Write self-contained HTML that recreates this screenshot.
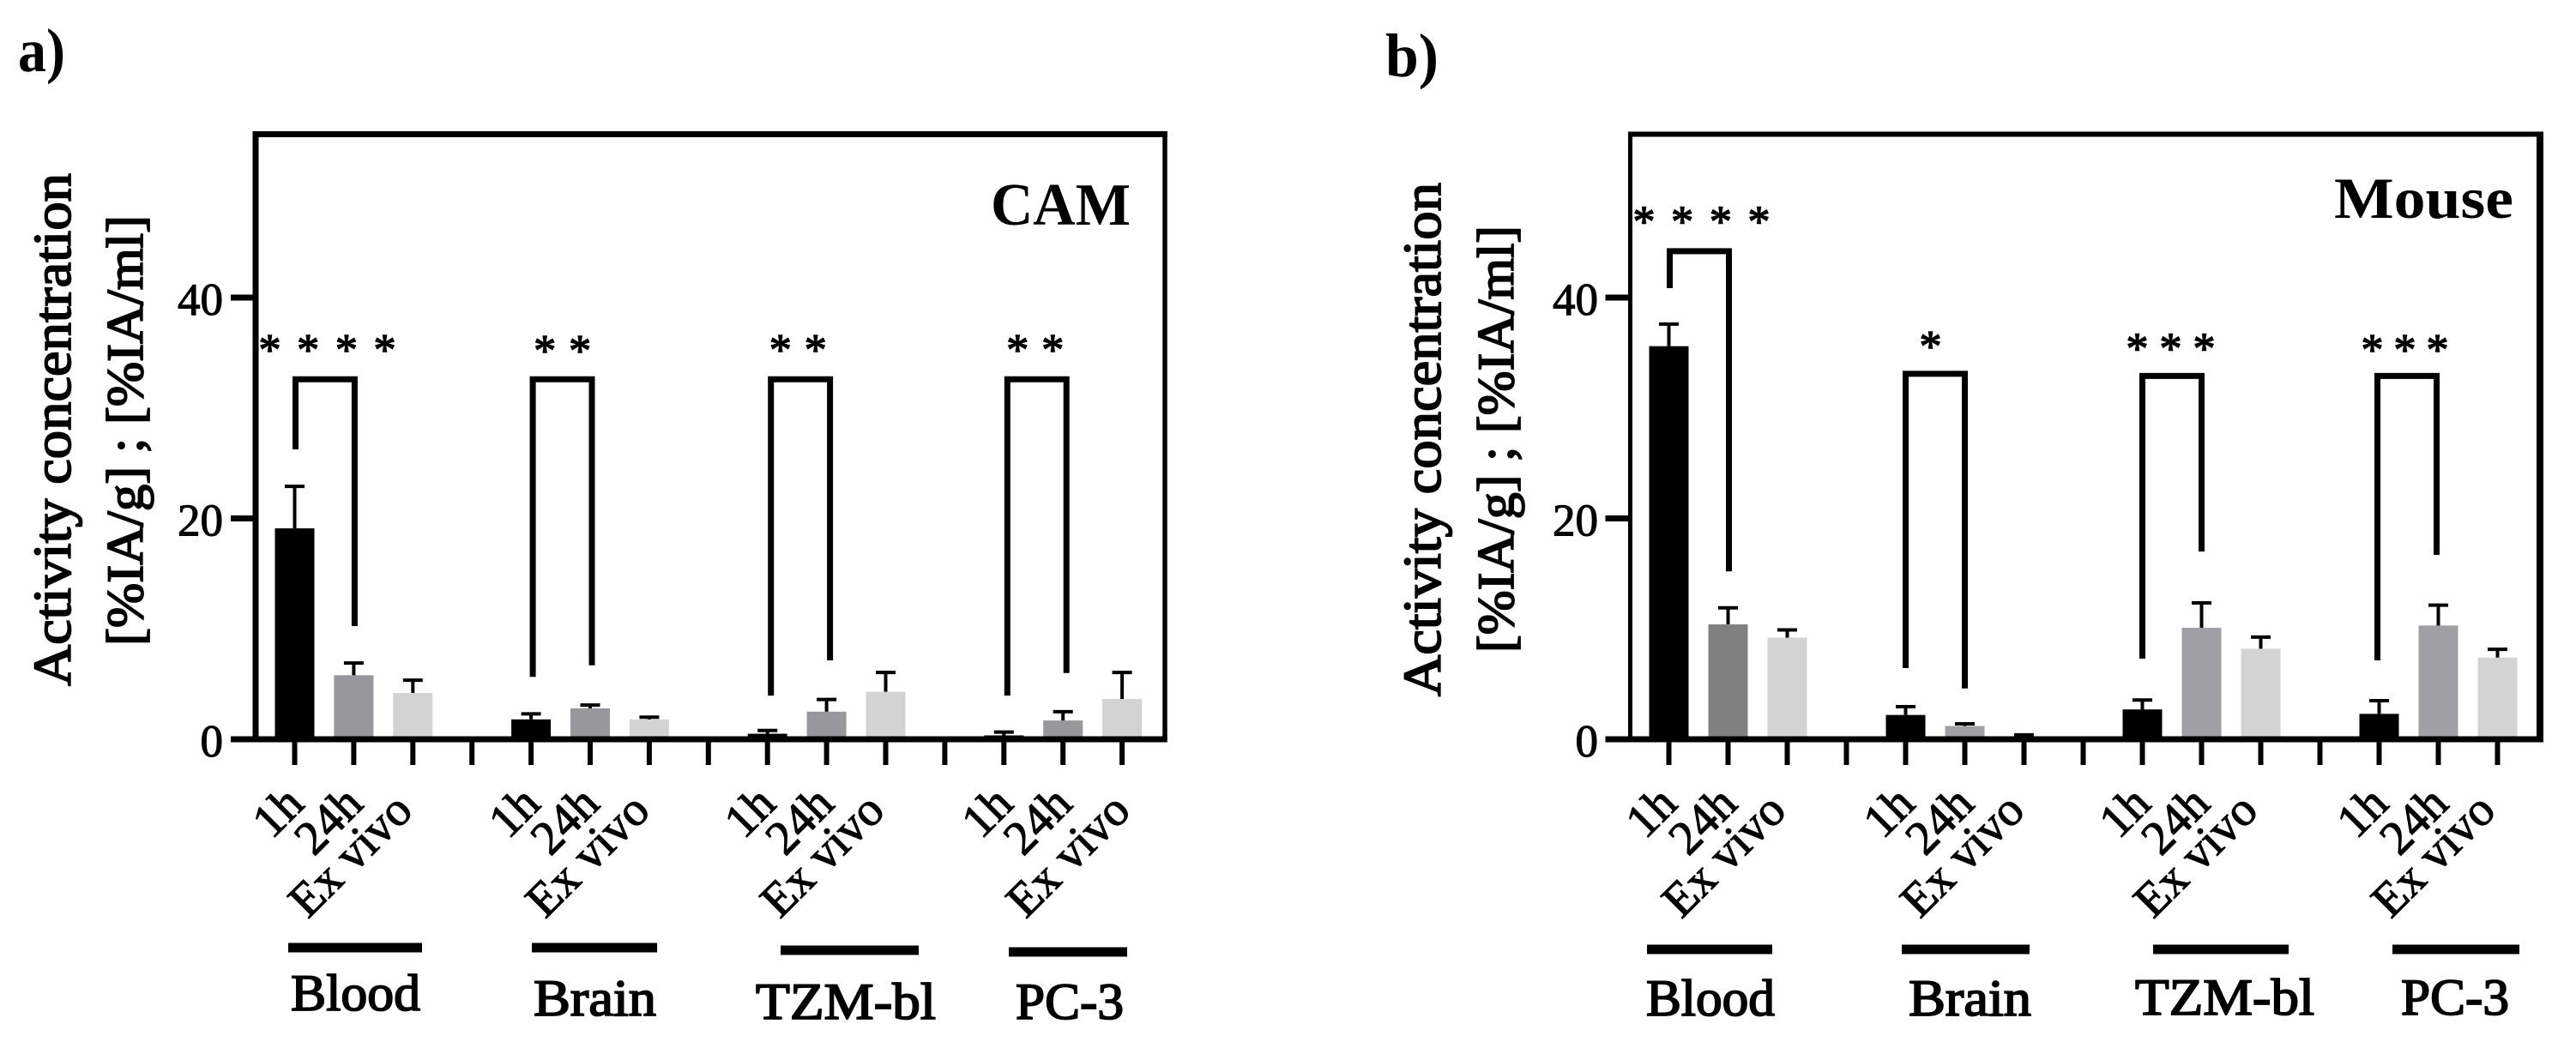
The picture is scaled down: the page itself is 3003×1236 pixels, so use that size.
<!DOCTYPE html>
<html lang="en">
<head>
<meta charset="utf-8">
<title>Activity concentration: CAM and Mouse</title>
<style>
html,body{margin:0;padding:0;background:#fff;width:3003px;height:1236px;overflow:hidden}
svg{display:block}
text{font-family:"Liberation Serif",serif;fill:#000}
</style>
</head>
<body>
<svg id="figure" xmlns="http://www.w3.org/2000/svg" width="3003" height="1236" viewBox="0 0 3003 1236">
<rect x="0" y="0" width="3003" height="1236" fill="#ffffff"/>
</svg>
<script>
const groups = ['Blood', 'Brain', 'TZM-bl', 'PC-3'];
const timepoints = ['1h', '24h', 'Ex vivo'];
const yTickValues = [0, 20, 40];
const yAxisMax = 54.8;

const camValues = [19.1, 5.8, 4.2, 1.8, 2.8, 1.8, 0.5, 2.5, 4.3, 0.35, 1.7, 3.65];
const camErrorTops = [22.9, 6.9, 5.35, 2.3, 3.1, 2.0, 0.8, 3.6, 6.05, 0.65, 2.5, 6.05];
const camBracketTops = [32.6, 32.6, 32.6, 32.6];
const camBracketLeftEnds = [26.25, 5.65, 3.95, 3.95];
const camBracketRightEnds = [10.25, 6.7, 7.15, 6.0];
const camStarCounts = [4, 2, 2, 2];
const camStarLevels = [35.9, 35.8, 35.9, 35.9];

const mouseValues = [35.6, 10.4, 9.2, 2.2, 1.2, 0.2, 2.7, 10.1, 8.2, 2.3, 10.3, 7.4];
const mouseErrorTops = [37.6, 11.9, 9.9, 2.95, 1.4, 0.4, 3.55, 12.35, 9.25, 3.5, 12.15, 8.15];
const mouseBracketTops = [44.2, 33.1, 32.9, 32.9];
const mouseBracketLeftEnds = [40.85, 6.45, 7.3, 7.15];
const mouseBracketRightEnds = [15.2, 4.6, 17.0, 16.7];
const mouseStarCounts = [4, 1, 3, 3];
const mouseStarLevels = [47.5, 36.2, 36.0, 35.9];

const NS = 'http://www.w3.org/2000/svg';
const svg = document.getElementById('figure');
const PLOT_BOTTOM = 862;
const PX_PER_UNIT = 12.875;
const BAR_W = 46;

function yScale(v) { return PLOT_BOTTOM - v * PX_PER_UNIT; }
function xScale(p, g, k) { return p.x0 + p.step * (g * 4 + k); }

function make(tag, parent) {
  const el = document.createElementNS(NS, tag);
  parent.appendChild(el);
  return el;
}
function setAll(el, props) {
  for (const k in props) el.setAttribute(k, props[k]);
  return el;
}
function label(parent, str, x, y, size, extra) {
  const t = make('text', parent);
  setAll(t, Object.assign({ x: x, y: y, 'font-size': size }, extra || {}));
  t.textContent = str;
  return t;
}

const panels = [
  {
    id: 'cam', title: 'CAM', letter: 'a)', letterX: 21, letterY: 83, letterLen: 55,
    values: camValues, errs: camErrorTops, bTop: camBracketTops, bL: camBracketLeftEnds, bR: camBracketRightEnds,
    starN: camStarCounts, starL: camStarLevels,
    left: 298, right: 1358, lw: 7, rw: 5.5, tw: 7,
    x0: 343.5, step: 68.9, bracketNudge: [1, 2, 4, 4],
    shades: [['#000', '#98989c', '#d3d3d3'], ['#000', '#98989c', '#d3d3d3'], ['#000', '#98989c', '#d3d3d3'], ['#000', '#98989c', '#d3d3d3']],
    tickLabelX: 260,
    titleX: 1155, titleY: 262, titleLen: 163, titleSize: 70,
    ylab1: [82, 800, 598], ylab2: [166, 753, 502],
    starOff: [38, 36.5, 35.5, 36.5], starGap: [44.7, 41, 41, 41],
    labelEnds: [[13, 13, 2], [13, 13, 3], [12, 11, 1], [13, 13, 12]],
    labelBase: [940, 940, 948],
    under: [[336, 492, 1105], [620, 766, 1105], [910, 1071, 1108], [1176, 1314, 1110]],
    names: [[339, 151, 1178], [622, 143, 1184], [881, 210, 1188], [1184, 126, 1188]]
  },
  {
    id: 'mouse', title: 'Mouse', letter: 'b)', letterX: 1615, letterY: 89, letterLen: 62,
    values: mouseValues, errs: mouseErrorTops, bTop: mouseBracketTops, bL: mouseBracketLeftEnds, bR: mouseBracketRightEnds,
    starN: mouseStarCounts, starL: mouseStarLevels,
    left: 1900.5, right: 2961, lw: 5, rw: 8, tw: 6,
    x0: 1945.5, step: 69, bracketNudge: [1, 0, 0, -2],
    shades: [['#000', '#808080', '#d3d3d3'], ['#000', '#a0a0a4', '#d3d3d3'], ['#000', '#a0a0a4', '#d3d3d3'], ['#000', '#a0a0a4', '#d3d3d3']],
    tickLabelX: 1863,
    titleX: 2721, titleY: 254, titleLen: 209, titleSize: 68,
    ylab1: [1679, 812, 599], ylab2: [1764, 761, 498],
    starOff: [38, 29, 33, 30], starGap: [44.7, 0, 39, 38],
    labelEnds: [[12, 13, 1], [13, 13, 3], [12, 12, -1], [13, 14, 0]],
    labelBase: [940, 940, 948],
    under: [[1920, 2066, 1107], [2217, 2366, 1107], [2510, 2668, 1107], [2789, 2937, 1107]],
    names: [[1919, 150, 1184], [2225, 143, 1184], [2489, 209, 1183], [2799, 126, 1183]]
  }
];

panels.forEach(function (p) {
  const g = make('g', svg);
  
  

  const letter = label(g, p.letter, p.letterX, p.letterY, 72, { textLength: p.letterLen, lengthAdjust: 'spacingAndGlyphs', 'font-weight': 'bold' });
  
  

  const yt1 = label(g, 'Activity concentration', 0, 0, 62, { transform: 'translate(' + p.ylab1[0] + ' ' + p.ylab1[1] + ') rotate(-90)', textLength: p.ylab1[2], lengthAdjust: 'spacingAndGlyphs', stroke: '#000', 'stroke-width': 1.8 });
  
  

  const yt2 = label(g, '[%IA/g] ; [%IA/ml]', 0, 0, 60, { transform: 'translate(' + p.ylab2[0] + ' ' + p.ylab2[1] + ') rotate(-90)', textLength: p.ylab2[2], lengthAdjust: 'spacingAndGlyphs', stroke: '#000', 'stroke-width': 1.8 });
  
  

  // bars and error bars
  groups.forEach(function (grp, gi) {
    timepoints.forEach(function (tp, ki) {
      const idx = gi * 3 + ki;
      const cx = xScale(p, gi, ki);
      const val = p.values[idx];
      const err = p.errs[idx];

      const bar = make('rect', g);
      setAll(bar, { x: cx - BAR_W / 2, y: yScale(val), width: BAR_W, height: PLOT_BOTTOM - yScale(val), fill: p.shades[gi][ki] });
      
      

      const stem = make('line', g);
      setAll(stem, { x1: cx, x2: cx, y1: yScale(val), y2: yScale(err), stroke: '#000', 'stroke-width': 4 });
      
      

      const cap = make('line', g);
      setAll(cap, { x1: cx - 11.5, x2: cx + 11.5, y1: yScale(err), y2: yScale(err), stroke: '#000', 'stroke-width': 4 });
      
      

      const tick = make('line', g);
      setAll(tick, { x1: cx, x2: cx, y1: PLOT_BOTTOM, y2: 892, stroke: '#000', 'stroke-width': 6 });
      
      

      const tl = label(g, tp, 0, 0, 56, { 'text-anchor': 'end', transform: 'translate(' + (cx + p.labelEnds[gi][ki]) + ' ' + p.labelBase[ki] + ') rotate(-45)', stroke: '#000', 'stroke-width': 1.1 });
      
      
    });

    // tick between groups
    if (gi < groups.length - 1) {
      const gapX = xScale(p, gi, 3);
      const gapTick = make('line', g);
      setAll(gapTick, { x1: gapX, x2: gapX, y1: PLOT_BOTTOM, y2: 892, stroke: '#000', 'stroke-width': 6 });
      
      
    }

    // significance bracket
    const bx1 = xScale(p, gi, 0) + p.bracketNudge[gi];
    const bx2 = xScale(p, gi, 1) + p.bracketNudge[gi];
    const br = make('path', g);
    setAll(br, {
      d: 'M' + bx1 + ' ' + yScale(p.bL[gi]) + 'V' + yScale(p.bTop[gi]) + 'H' + bx2 + 'V' + yScale(p.bR[gi]),
      fill: 'none', stroke: '#000', 'stroke-width': 7, 'stroke-linejoin': 'miter'
    });
    
    

    // significance stars
    const n = p.starN[gi];
    const center = xScale(p, gi, 0) + p.starOff[gi];
    for (let s = 0; s < n; s++) {
      const sx = center + (s - (n - 1) / 2) * p.starGap[gi];
      const star = label(g, '*', sx, yScale(p.starL[gi]) + 25, 52, { 'text-anchor': 'middle', stroke: '#000', 'stroke-width': 1.4 });
      
      
    }

    // group underline + name
    const u = p.under[gi];
    const ul = make('rect', g);
    setAll(ul, { x: u[0], y: u[2] - 5.5, width: u[1] - u[0], height: 11, fill: '#000' });
    
    

    const nm = p.names[gi];
    const gl = label(g, grp, nm[0], nm[2], 60, { textLength: nm[1], lengthAdjust: 'spacingAndGlyphs', stroke: '#000', 'stroke-width': 1.8 });
    
    
  });

  // y ticks
  yTickValues.forEach(function (v) {
    const t = make('line', g);
    setAll(t, { x1: p.left - 29, x2: p.left, y1: yScale(v), y2: yScale(v), stroke: '#000', 'stroke-width': 7 });
    
    

    const tl = label(g, String(v), p.tickLabelX, yScale(v) + 20, 53, { 'text-anchor': 'end', stroke: '#000', 'stroke-width': 1.1 });
    
    
  });

  // frame
  const top = yScale(yAxisMax);
  const fl = make('line', g);
  setAll(fl, { x1: p.left, x2: p.left, y1: top - p.tw / 2, y2: PLOT_BOTTOM, stroke: '#000', 'stroke-width': p.lw });
  
  

  const fb = make('line', g);
  setAll(fb, { x1: p.left, x2: p.right + p.rw / 2, y1: PLOT_BOTTOM, y2: PLOT_BOTTOM, stroke: '#000', 'stroke-width': 7 });
  
  

  const ft = make('line', g);
  setAll(ft, { x1: p.left - p.lw / 2, x2: p.right + p.rw / 2, y1: top, y2: top, stroke: '#000', 'stroke-width': p.tw });
  
  

  const fr = make('line', g);
  setAll(fr, { x1: p.right, x2: p.right, y1: top - p.tw / 2, y2: PLOT_BOTTOM, stroke: '#000', 'stroke-width': p.rw });
  
  

  const ttl = label(g, p.title, p.titleX, p.titleY, p.titleSize, { textLength: p.titleLen, lengthAdjust: 'spacingAndGlyphs', 'font-weight': 'bold' });
  
  
});
</script>
</body>
</html>
